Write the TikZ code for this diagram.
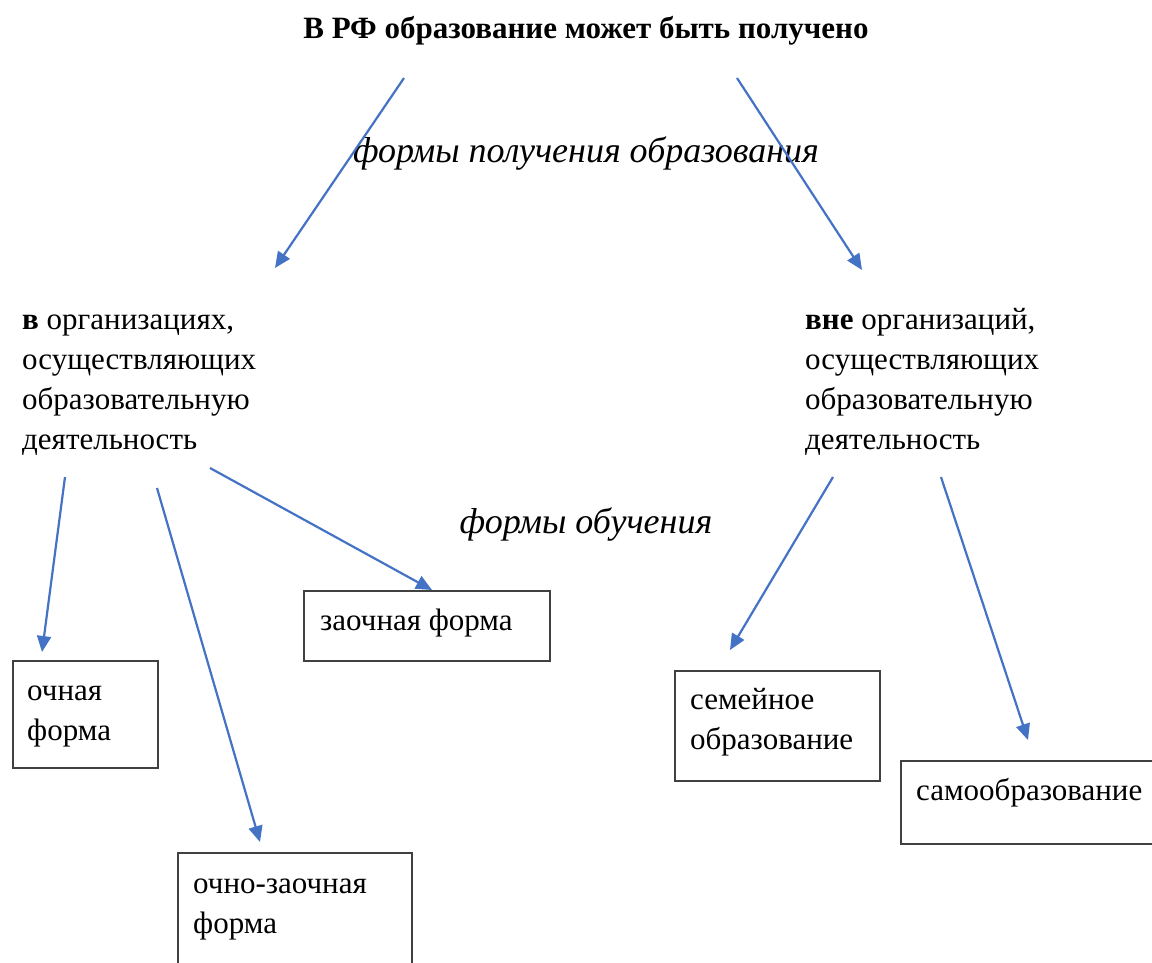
\documentclass[tikz,border=0pt]{standalone}
\usepackage{fontspec}
\setmainfont{Liberation Serif}
\usetikzlibrary{arrows.meta}
\definecolor{arrowblue}{RGB}{68,114,196}
\definecolor{boxgray}{RGB}{64,64,64}
\tikzset{
  txt/.style={inner sep=0pt, align=left, font=\fontsize{31}{40}\selectfont},
  ital/.style={inner sep=0pt, font=\fontsize{36}{44}\selectfont\itshape},
  box/.style={draw=boxgray, line width=1.8pt, inner sep=0pt},
  conn/.style={draw=arrowblue, line width=2.2pt, -{Triangle[length=16pt,width=14pt]}}
}
\begin{document}
\begin{tikzpicture}[x=1pt,y=-1pt]
\useasboundingbox (0,0) rectangle (1152,962);
% title
\node[inner sep=0pt, anchor=base, font=\fontsize{31}{40}\selectfont\bfseries] (title) at (586,38) {В РФ образование может быть получено};
\node[ital, anchor=base] (formsget) at (586,162) {формы получения образования};
\node[ital, anchor=base] (formslearn) at (586,533) {формы обучения};
% blocks
\node[txt, anchor=north west] (inorg) at (22,301) {\strut\textbf{в} организациях,\\осуществляющих\\образовательную\\деятельность};
\node[txt, anchor=north west] (outorg) at (805,301) {\strut\textbf{вне} организаций,\\осуществляющих\\образовательную\\деятельность};
% boxes
\node[box, anchor=north west, minimum width=145pt, minimum height=107pt] (ochn) at (12,660) {};
\node[box, anchor=north west, minimum width=246pt, minimum height=70pt] (zaoch) at (303,590) {};
\node[box, anchor=north west, minimum width=234pt, minimum height=120pt] (ochzaoch) at (177,852) {};
\node[box, anchor=north west, minimum width=205pt, minimum height=110pt] (semeyn) at (674,670) {};
\node[box, anchor=north west, minimum width=262pt, minimum height=83pt] (samoobr) at (900,760) {};
% box texts
\node[txt, anchor=north west] (tochn) at (27,672) {\strut очная\\форма};
\node[txt, anchor=north west] (tzaoch) at (320,602) {\strut заочная форма};
\node[txt, anchor=north west] (tochzaoch) at (193,865) {\strut очно-заочная\\форма};
\node[txt, anchor=north west] (tsemeyn) at (690,681) {\strut семейное\\образование};
\node[txt, anchor=north west] (tsamoobr) at (916,772) {\strut самообразование};
% arrow endpoints
\coordinate (a1s) at (404,78); \coordinate (a1e) at (275,268);
\coordinate (a2s) at (737,78); \coordinate (a2e) at (862,270);
\coordinate (a3s) at (65,477); \coordinate (a3e) at (42,652);
\coordinate (a4s) at (157,488); \coordinate (a4e) at (260,842);
\coordinate (a5s) at (210,468); \coordinate (a5e) at (432,590);
\coordinate (a6s) at (833,477); \coordinate (a6e) at (730,650);
\coordinate (a7s) at (941,477); \coordinate (a7e) at (1028,740);
\draw[conn] (a1s) -- (a1e);
\draw[conn] (a2s) -- (a2e);
\draw[conn] (a3s) -- (a3e);
\draw[conn] (a4s) -- (a4e);
\draw[conn] (a5s) -- (a5e);
\draw[conn] (a6s) -- (a6e);
\draw[conn] (a7s) -- (a7e);
\end{tikzpicture}
\end{document}
